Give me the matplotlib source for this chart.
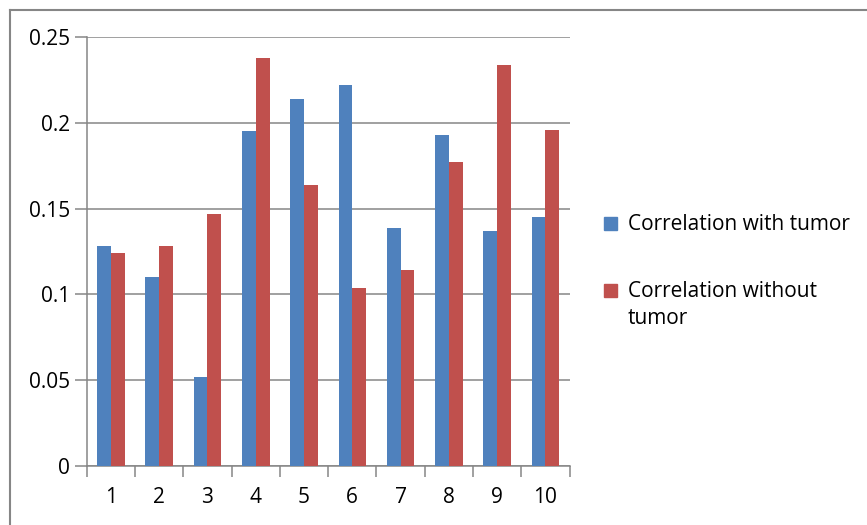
import numpy as np
import matplotlib.pyplot as plt
from matplotlib.lines import Line2D
from matplotlib.patches import Rectangle

plt.rcParams['font.family'] = ['Open Sans', 'DejaVu Sans']

categories = ['1', '2', '3', '4', '5', '6', '7', '8', '9', '10']
with_tumor = [0.128, 0.110, 0.052, 0.195, 0.214, 0.222, 0.139, 0.193, 0.137, 0.145]
without_tumor = [0.124, 0.128, 0.147, 0.238, 0.164, 0.104, 0.114, 0.177, 0.234, 0.196]
series_names = ['Correlation with tumor', 'Correlation without\ntumor']
colors = ['#4F81BD', '#C0504D']
yticks = [0, 0.05, 0.1, 0.15, 0.2, 0.25]
ytick_labels = ['0', '0.05', '0.1', '0.15', '0.2', '0.25']

fig = plt.figure(figsize=(8.67, 5.25), dpi=100)
ax = fig.add_axes([0.1, 0.1124, 0.557, 0.817])

x = np.arange(len(categories))
w = 1 / 3.5
ax.bar(x - w / 2, with_tumor, width=w, color=colors[0], zorder=3)
ax.bar(x + w / 2, without_tumor, width=w, color=colors[1], zorder=3)

grey = '#868686'
ax.set_xlim(-0.5, len(categories) - 0.5)
ax.set_ylim(0, 0.25)
ax.set_yticks(yticks)
ax.set_yticklabels(ytick_labels)
ax.yaxis.grid(True, color=grey, linewidth=1.1, zorder=0)
ax.set_xticks(np.arange(len(categories) + 1) - 0.5)
ax.set_xticklabels([])
ax.set_xticks(x, minor=True)
ax.set_xticklabels(categories, minor=True)
ax.tick_params(axis='x', which='major', length=8, width=1.1, color=grey, direction='out')
ax.tick_params(axis='x', which='minor', length=0, pad=15, labelsize=15)
ax.tick_params(axis='y', length=9, width=1.1, color=grey, pad=3, labelsize=15)
for s in ['top', 'right']:
    ax.spines[s].set_visible(False)
for s in ['left', 'bottom']:
    ax.spines[s].set_color(grey)
    ax.spines[s].set_linewidth(1.1)

# legend drawn by hand
leg_y = [223, 290]
for i in range(2):
    yy = 1 - leg_y[i] / 525
    fig.patches.append(Rectangle((604 / 867, yy - 6.5 / 525), 13 / 867, 13 / 525,
                                 transform=fig.transFigure, color=colors[i]))
    fig.text(628 / 867, yy + 9 / 525, series_names[i], fontsize=15, va='top',
             linespacing=1.4)

# chart area border (top and left)
fig.add_artist(Line2D([10 / 867, 1], [1 - 10 / 525] * 2, color=grey, lw=1.5))
fig.add_artist(Line2D([10 / 867] * 2, [0, 1 - 10 / 525], color=grey, lw=1.5))

fig.savefig('out.png', dpi=100)
